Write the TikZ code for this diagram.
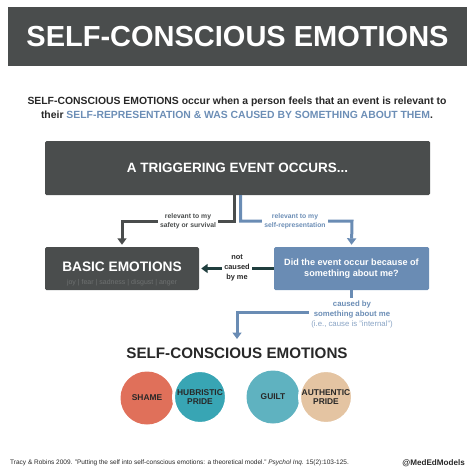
\documentclass[tikz,border=0pt]{standalone}
\usepackage{fontspec}
\setmainfont{Liberation Sans}
\usetikzlibrary{positioning, arrows.meta}
\definecolor{slate}{RGB}{74,77,77}
\definecolor{steel}{RGB}{106,140,180}
\definecolor{steeltext}{RGB}{108,142,182}
\definecolor{deepteal}{RGB}{32,62,62}
\definecolor{coral}{RGB}{224,112,90}
\definecolor{teal}{RGB}{56,165,180}
\definecolor{lightteal}{RGB}{95,178,192}
\definecolor{tan}{RGB}{228,196,162}
\definecolor{ink}{RGB}{40,40,40}
\tikzset{
  >={Triangle[width=9pt,length=6.5pt]},
  darkbox/.style={fill=slate, text=white, font=\bfseries, rounded corners=1.5pt, inner sep=0pt},
  bluebox/.style={fill=steel, text=white, font=\bfseries, rounded corners=1.5pt, inner sep=0pt, align=center},
  flow/.style={line width=3pt, ->, shorten >=2pt},
  darkflow/.style={flow, draw=slate},
  blueflow/.style={flow, draw=steel},
  tealflow/.style={flow, draw=deepteal},
  edgelabel/.style={fill=white, inner sep=2pt, align=center, font=\bfseries\fontsize{6.8}{8.8}\selectfont},
  emotion/.style={circle, minimum size=53pt, inner sep=0pt, align=center, text=ink, font=\bfseries\fontsize{8.4}{9.8}\selectfont},
}

\begin{document}
\begin{tikzpicture}[x=1pt, y=-1pt]
		\useasboundingbox (0,0) rectangle (474,474);

		% heading
		\node[darkbox, minimum width=459pt, minimum height=59pt, rounded corners=0pt,
		  font=\bfseries\fontsize{29}{32}\selectfont] (title) at (237.5,36.5) {SELF-CONSCIOUS EMOTIONS};
		\node[align=center, text=ink, font=\bfseries\fontsize{10.4}{14}\selectfont] (intro) at (237,108)
		  {SELF-CONSCIOUS EMOTIONS occur when a person feels that an event is relevant to\\
		   their \textcolor{steeltext}{SELF-REPRESENTATION \& WAS CAUSED BY SOMETHING ABOUT THEM}.};

		% boxes
		\node[darkbox, minimum width=385pt, minimum height=54pt,
		  font=\bfseries\fontsize{13.5}{15}\selectfont] (trigger) at (237.5,168) {A TRIGGERING EVENT OCCURS...};
		\node[darkbox, minimum width=154pt, minimum height=43pt] (basic) at (122,268.5) {};
		\node[text=white, font=\bfseries\fontsize{13.7}{15}\selectfont] (basictext) at (122,267) {BASIC EMOTIONS};
		\node[text=slate!80!white, font=\fontsize{7}{8}\selectfont] (basicsub) at (122,283) {joy | fear | sadness | disgust | anger};
		\node[bluebox, minimum width=155pt, minimum height=43pt,
		  font=\bfseries\fontsize{9.1}{11.5}\selectfont] (question) at (351.5,268.5) {Did the event occur because of\\something about me?};

		% connectors
		\coordinate (leftturn) at (122,221);
		\coordinate (rightturn) at (352,221);
		\coordinate (downturn) at (237,312);
		\coordinate (scarrow) at (237,341);
		\draw[darkflow] ([xshift=-3.5pt]trigger.south) |- (leftturn) -- (basic.north);
		\draw[blueflow] ([xshift=3pt]trigger.south) |- (rightturn) -- (question.north);
		\draw[tealflow] (question.west) -- (basic.east);
		\draw[blueflow] (question.south) |- (downturn) -- (scarrow);

		% labels
		\node[edgelabel, text=slate] (safety) at (188,221) {relevant to my\\safety or survival};
		\node[edgelabel, text=steeltext] (selfrep) at (295,221) {relevant to my\\self-representation};
		\node[edgelabel, text=ink, font=\bfseries\fontsize{7.4}{10}\selectfont] (notme) at (237,268) {not\\caused\\by me};
		\node[edgelabel, text=steeltext, font=\bfseries\fontsize{7.8}{10}\selectfont] (byme) at (352,314)
		  {caused by\\something about me\\{\mdseries\color{steeltext!80!white}(i.e., cause is "internal")}};

		% self-conscious emotions
		\node[text=ink, font=\bfseries\fontsize{15.2}{17}\selectfont] (sctitle) at (237,353) {SELF-CONSCIOUS EMOTIONS};
		\node[emotion, fill=coral] (shame) at (147,398) {SHAME};
		\node[emotion, fill=teal, draw=white, line width=3pt] (hubris) at (200,397) {HUBRISTIC\\PRIDE};
		\node[emotion, fill=lightteal] (guilt) at (273,397) {GUILT};
		\node[emotion, fill=tan, draw=white, line width=3pt] (authentic) at (326,397) {AUTHENTIC\\PRIDE};

		% footer
		\node[anchor=west, text=ink, inner sep=0pt, font=\fontsize{6.5}{8}\selectfont] (cite) at (10,463)
		  {Tracy \& Robins 2009. "Putting the self into self-conscious emotions: a theoretical model." \textit{Psychol Inq.} 15(2):103-125.};
		\node[anchor=east, text=ink, inner sep=0pt, font=\bfseries\fontsize{8.1}{9}\selectfont] (handle) at (465,463) {@MedEdModels};

	\end{tikzpicture}
\end{document}
